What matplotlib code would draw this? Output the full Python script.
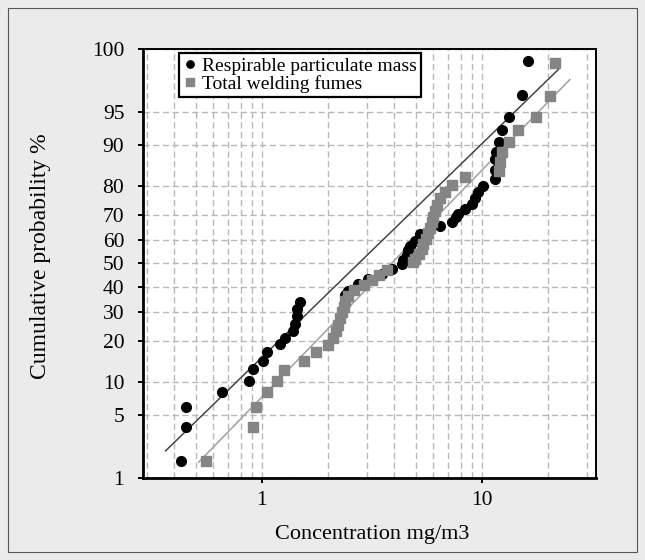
"""Log-probability plot: respirable particulate mass vs total welding fumes."""
from statistics import NormalDist

import matplotlib
matplotlib.use("Agg")
import matplotlib.pyplot as plt
from matplotlib.patches import Rectangle
from matplotlib.ticker import FixedLocator, FuncFormatter, LogLocator, NullFormatter
import numpy as np

plt.rcParams["font.family"] = ["Liberation Serif", "DejaVu Serif"]

# ---- data (concentration mg/m3, cumulative %) ----
rpm_conc = [0.43, 0.45, 0.45, 0.66, 0.87, 0.91, 1.01, 1.05, 1.21, 1.27, 1.38, 1.41,
            1.44, 1.44, 1.49, 2.38, 2.47, 2.74, 3.04, 3.50, 3.89, 4.31, 4.40, 4.55,
            4.62, 4.71, 4.96, 5.23, 6.44, 7.28, 7.60, 7.80, 8.37, 8.98, 9.30, 9.60,
            10.1, 11.5, 11.5, 11.5, 11.6, 11.9, 12.4, 13.3, 15.2, 16.2]
rpm_prob = [1.6, 3.8, 6.0, 8.1, 10.1, 12.6, 14.6, 16.8, 19.1, 21.0, 23.3, 25.6,
            28.6, 31.0, 33.8, 36.8, 38.4, 41.2, 43.3, 45.5, 47.6, 49.8, 51.6, 53.8,
            55.9, 57.7, 59.8, 62.6, 65.9, 67.3, 69.4, 70.4, 72.3, 74.1, 76.0, 78.0,
            79.9, 82.0, 84.4, 87.1, 88.6, 90.7, 92.6, 94.4, 96.6, 98.6]

twf_conc = [0.556, 0.913, 0.936, 1.05, 1.17, 1.26, 1.55, 1.76, 2.00, 2.10, 2.17, 2.22,
            2.27, 2.31, 2.35, 2.39, 2.46, 2.63, 2.90, 3.15, 3.40, 3.72, 4.87, 4.98,
            5.15, 5.32, 5.42, 5.55, 5.68, 5.80, 5.92, 6.00, 6.12, 6.28, 6.46, 6.82,
            7.30, 8.37, 11.9, 12.1, 12.3, 13.3, 14.6, 17.6, 20.4, 21.5]
twf_prob = [1.6, 3.8, 6.0, 8.1, 10.2, 12.4, 14.6, 16.9, 18.8, 21.0, 23.2, 25.4,
            27.6, 29.8, 32.0, 34.2, 36.4, 38.6, 40.8, 43.0, 45.2, 47.4, 50.5, 51.8,
            54.0, 56.2, 58.4, 60.6, 62.8, 65.0, 67.2, 69.4, 71.6, 73.8, 76.0, 78.2,
            80.4, 82.5, 84.3, 86.4, 88.6, 90.6, 92.6, 94.4, 96.5, 98.5]

# fitted lognormal lines (end points)
rpm_fit_conc = [0.365, 22.3]
rpm_fit_prob = [2.11, 98.24]
twf_fit_conc = [0.516, 25.1]
twf_fit_prob = [1.56, 97.7]

y_ticks = [1, 5, 10, 20, 30, 40, 50, 60, 70, 80, 90, 95, 99]
y_labels = ["1", "5", "10", "20", "30", "40", "50", "60", "70", "80", "90", "95", "100"]

BG = "#ebebeb"
GRID = "#b8b8b8"

_ND = NormalDist()
_ppf = np.vectorize(_ND.inv_cdf, otypes=[float])
_cdf = np.vectorize(_ND.cdf, otypes=[float])


def probit(p):
    p = np.clip(np.asarray(p, float), 1e-4, 100 - 1e-4) / 100.0
    return _ppf(p)


def inv_probit(z):
    return _cdf(np.asarray(z, float)) * 100.0


fig = plt.figure(figsize=(6.45, 5.6), dpi=100, facecolor=BG)
fig.patches.append(Rectangle((8 / 645, 8 / 560), 629 / 645, 544 / 560,
                             transform=fig.transFigure, fill=False,
                             edgecolor="#555555", lw=0.8))
ax = fig.add_axes([143 / 645, 1 - 478 / 560, 453 / 645, 429 / 560])
ax.set_facecolor("white")

ax.set_xscale("log")
ax.set_yscale("function", functions=(probit, inv_probit))
ax.set_xlim(0.288, 33)
ax.set_ylim(1, 99)

ax.plot(rpm_fit_conc, rpm_fit_prob, color="#454545", lw=1.1, zorder=3)
ax.plot(twf_fit_conc, twf_fit_prob, color="#a0a0a0", lw=1.1, zorder=3)
ax.plot(rpm_conc, rpm_prob, "o", color="black", ms=7, mec="black",
        label="Respirable particulate mass", zorder=4)
ax.plot(twf_conc, twf_prob, "s", color="#858585", ms=6.8, mec="#858585",
        label="Total welding fumes", zorder=5)

ax.yaxis.set_major_locator(FixedLocator(y_ticks))
ax.set_yticklabels(y_labels)
ax.yaxis.set_minor_locator(FixedLocator([]))
ax.xaxis.set_major_locator(LogLocator(base=10))
ax.xaxis.set_major_formatter(FuncFormatter(lambda v, _: f"{v:g}"))
ax.xaxis.set_minor_locator(LogLocator(base=10, subs=np.arange(2, 10)))
ax.xaxis.set_minor_formatter(NullFormatter())

ax.tick_params(axis="y", which="major", direction="out", length=3.5, width=1.4,
               labelsize=15.5, pad=10, color="black")
ax.tick_params(axis="x", which="major", direction="out", length=3.5, width=1.4,
               labelsize=15.5, pad=6, color="black")
ax.tick_params(axis="x", which="minor", length=0)

ax.grid(True, which="major", axis="both", color=GRID, lw=1.0, ls=(0, (4.5, 2.5)))
ax.grid(True, which="minor", axis="x", color=GRID, lw=1.0, ls=(0, (4.5, 2.5)))
ax.set_axisbelow(True)

for side in ("left", "bottom"):
    ax.spines[side].set_linewidth(2.0)
for side in ("top", "right"):
    ax.spines[side].set_linewidth(1.4)

leg = ax.legend(loc="upper left", bbox_to_anchor=(0.079, 0.99), fontsize=14,
                frameon=True, fancybox=False, borderpad=0.2, labelspacing=0.0,
                handlelength=0.8, handletextpad=0.2, markerscale=0.75,
                borderaxespad=0.0)
leg.get_frame().set_edgecolor("black")
leg.get_frame().set_linewidth(1.6)
leg.get_frame().set_alpha(1)

fig.text(41 / 645, 1 - 256 / 560, "Cumulative probability %", rotation=90,
         ha="center", va="center", fontsize=17)
fig.text(372 / 645, 1 - 535 / 560, "Concentration mg/m3", ha="center",
         va="center", fontsize=16)

fig.savefig("out.png", dpi=100, facecolor=BG)
